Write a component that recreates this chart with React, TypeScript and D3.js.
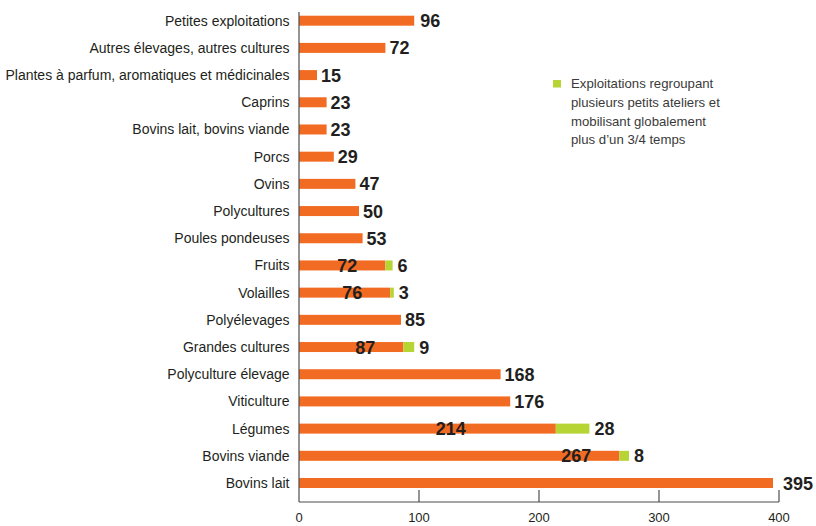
import React from "react";
import * as d3 from "d3";

const categories = [
  "Petites exploitations",
  "Autres élevages, autres cultures",
  "Plantes à parfum, aromatiques et médicinales",
  "Caprins",
  "Bovins lait, bovins viande",
  "Porcs",
  "Ovins",
  "Polycultures",
  "Poules pondeuses",
  "Fruits",
  "Volailles",
  "Polyélevages",
  "Grandes cultures",
  "Polyculture élevage",
  "Viticulture",
  "Légumes",
  "Bovins viande",
  "Bovins lait",
];
const mainValues = [96, 72, 15, 23, 23, 29, 47, 50, 53, 72, 76, 85, 87, 168, 176, 214, 267, 395];
const groupedValues = [0, 0, 0, 0, 0, 0, 0, 0, 0, 6, 3, 0, 9, 0, 0, 28, 8, 0];
const xTicks = [0, 100, 200, 300, 400];
const legendLines = [
  "Exploitations regroupant",
  "plusieurs petits ateliers et",
  "mobilisant globalement",
  "plus d’un 3/4 temps",
];

const ORANGE = "#F26B22";
const GREEN = "#B6D433";
const TEXT = "#231F20";

export default function App() {
  const W = 816;
  const H = 526;
  const x = d3.scaleLinear().domain([0, 400]).range([299, 779]);
  const y = d3.scalePoint<string>().domain(categories).range([20.7, 483]);
  const barH = 10;
  const axisY = 502;
  const labelFont = "'Liberation Sans', Arial, Helvetica, sans-serif";
  const extraGap: Record<string, number> = { "Petites exploitations": 2, "Bovins lait": 6 };

  return (
    <svg width={W} height={H} style={{ position: "absolute", left: 0, top: 0, background: "#fff" }}>
      {/* bars */}
      {categories.map((c, i) => {
        const cy = y(c)!;
        const m = mainValues[i];
        const g = groupedValues[i];
        return (
          <g key={c}>
            <rect x={x(0)} y={cy - barH / 2} width={x(m) - x(0)} height={barH} fill={ORANGE} />
            {g > 0 && (
              <rect x={x(m)} y={cy - barH / 2} width={x(m + g) - x(m)} height={barH} fill={GREEN} />
            )}
          </g>
        );
      })}
      {/* axes */}
      <line x1={x(0)} x2={x(0)} y1={12} y2={axisY} stroke="#4d4d4d" strokeWidth={1.2} />
      <line x1={x(0)} x2={x(400)} y1={axisY} y2={axisY} stroke="#4d4d4d" strokeWidth={1.2} />
      {xTicks.slice(1).map((t) => (
        <line key={t} x1={x(t)} x2={x(t)} y1={axisY - 12} y2={axisY} stroke="#4d4d4d" strokeWidth={1.2} />
      ))}
      {xTicks.map((t) => (
        <text key={t} x={x(t)} y={522} textAnchor="middle" fontFamily={labelFont} fontSize={13} fill={TEXT}>
          {t}
        </text>
      ))}
      {/* category labels */}
      {categories.map((c) => (
        <text key={c} x={289.5} y={y(c)! + 5} textAnchor="end" fontFamily={labelFont} fontSize={14} fill={TEXT}>
          {c}
        </text>
      ))}
      {/* value labels */}
      {categories.map((c, i) => {
        const cy = y(c)! + 6.5;
        const m = mainValues[i];
        const g = groupedValues[i];
        if (g > 0) {
          const inset = c === "Légumes" ? 90 : 28;
          return (
            <g key={c} fontFamily={labelFont} fontWeight="bold" fontSize={18} fill={TEXT}>
              <text x={x(m) - inset} y={cy} textAnchor="end">{m}</text>
              <text x={x(m + g) + 5} y={cy}>{g}</text>
            </g>
          );
        }
        return (
          <text key={c} x={x(m) + 4 + (extraGap[c] || 0)} y={cy} fontFamily={labelFont} fontWeight="bold" fontSize={18} fill={TEXT}>
            {m}
          </text>
        );
      })}
      {/* legend */}
      <rect x={553} y={80} width={8} height={7.5} fill={GREEN} />
      {legendLines.map((l, i) => (
        <text key={i} x={571} y={88.3 + i * 18.6} fontFamily={labelFont} fontSize={13.2} fill="#3a3a3a">
          {l}
        </text>
      ))}
    </svg>
  );
}
